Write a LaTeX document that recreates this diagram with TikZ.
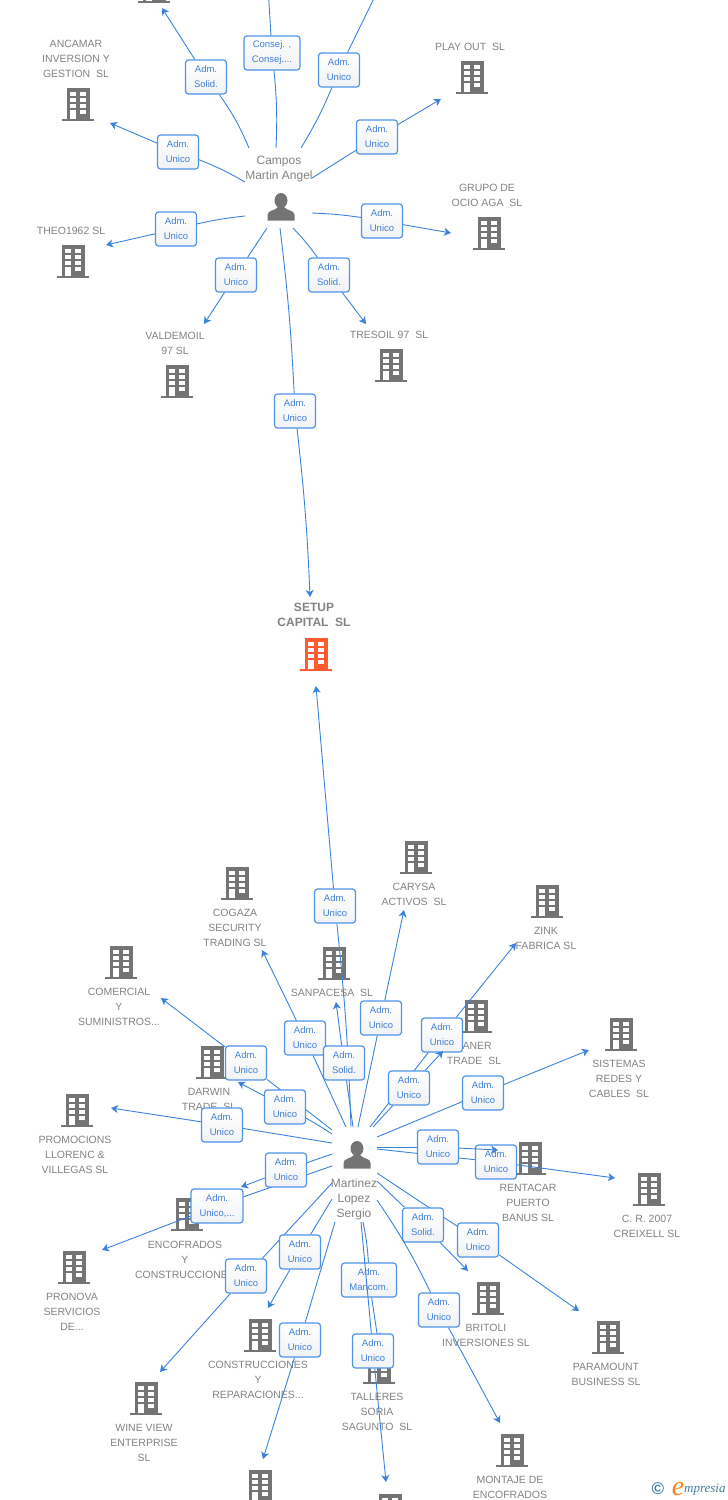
\documentclass[tikz,border=0pt]{standalone}
\usepackage{fontspec}
\setmainfont{Liberation Sans}
\newfontfamily\logofont{Liberation Serif}
\usetikzlibrary{arrows.meta}
\definecolor{linkblue}{HTML}{3B82DC}
\definecolor{boxblue}{HTML}{4E93E6}
\definecolor{relblue}{HTML}{3F7FD9}
\definecolor{boxshade}{HTML}{F1F2F4}
\definecolor{firmgray}{HTML}{747474}
\definecolor{labelgray}{HTML}{828282}
\definecolor{setuporange}{HTML}{FF5B2E}
\definecolor{logoteal}{HTML}{3F7F9C}
\definecolor{logoorange}{HTML}{F5821F}

\tikzset{
  pics/bldg/.style={code={
    \fill[#1] (-11.5,-16) rectangle (11.5,15);
    \fill[#1] (-16,14.5) rectangle (16,16.5);
    \foreach \wy in {-12.5,-6.5,-0.5} {
      \fill[white] (-8,\wy) rectangle (-2,\wy+4);
      \fill[white] (2,\wy) rectangle (8,\wy+4);
    }
    \fill[white] (2,5.5) rectangle (8,9.5);
    \fill[white] (-8,5.5) rectangle (-2,14.5);
  }},
  pics/person/.style={code={
    \fill[firmgray] (0,-6.5) ellipse (6.5 and 7.5);
    \fill[firmgray] (-13.5,13.5) -- (-13.5,8) .. controls (-13.5,3) and (-6,4) .. (-3,0)
      -- (3,0) .. controls (6,4) and (13.5,3) .. (13.5,8) -- (13.5,13.5) -- cycle;
  }},
  firmlabel/.style={text=labelgray,align=center,inner sep=0pt,
    font=\fontsize{10.5}{15}\selectfont},
  setuplabel/.style={firmlabel,font=\fontsize{12}{15}\selectfont\bfseries},
  personlabel/.style={text=labelgray,align=center,inner sep=0pt,
    font=\fontsize{12}{15}\selectfont},
  relbox/.style={draw=boxblue,line width=1.2pt,rounded corners=3pt,top color=white,
    bottom color=boxshade,text=relblue,align=center,inner sep=0pt,
    minimum width=41pt,minimum height=34pt,font=\fontsize{9.5}{15}\selectfont},
  link/.style={draw=linkblue,line width=0.9pt},
  linkto/.style={link,-{Stealth[length=7pt,width=8pt,inset=2pt]}}
}

% building with its label: [colour]{name}{building}{label}{text}
\newcommand{\firm}[5][firmgray]{
  \pic (#2-icon) at (#3) {bldg=#1};
  \node[firmlabel] (#2) at (#4) {#5};
}
% relation: [box width]{name}{start}{box}{end}{bend in}{bend out}{text}
\newcommand{\rel}[8][41pt]{
  \coordinate (#2-from) at (#3);
  \coordinate (#2-to) at (#5);
  \node[relbox,minimum width=#1] (#2) at (#4) {#8};
  \draw[link] (#2-from) to[bend left=#6] (#2);
  \draw[linkto] (#2) to[bend left=#7] (#2-to);
}

\begin{document}
\begin{tikzpicture}[x=1pt,y=-1pt]
  \clip (0,0) rectangle (728,1500);

  % firms above Campos
  \firm{topfirm}{154,-14}{154,-40}{}
  \firm{ancamar}{78,104}{76,59}{ANCAMAR\\INVERSION Y\\GESTION\ \ SL}
  \firm{playout}{472,77}{470,47}{PLAY OUT\ \ SL}
  \firm{grupo}{489,233}{487,195.5}{GRUPO DE\\OCIO AGA\ \ SL}
  \firm{theo}{73,261}{71,231}{THEO1962 SL}
  \firm{valdemoil}{177,381}{175,343.5}{VALDEMOIL\\97 SL}
  \firm{tresoil}{391,365}{389,335}{TRESOIL 97\ \ SL}

  % the company in the middle
  \pic (setup-icon) at (316,654) {bldg=setuporange};
  \node[setuplabel] (setup) at (314,615) {SETUP\\CAPITAL\ \ SL};

  % firms around Martinez
  \firm{cogaza}{237,883}{235,928}{COGAZA\\SECURITY\\TRADING SL}
  \firm{carysa}{416,857}{414,894.5}{CARYSA\\ACTIVOS\ \ SL}
  \firm{zink}{547,901}{546,938.5}{ZINK\\FABRICA SL}
  \firm{sanpacesa}{334,963}{332,993}{SANPACESA\ \ SL}
  \firm{comercial}{121,962}{119,1007}{COMERCIAL\\Y\\SUMINISTROS...}
  \firm{aner}{476,1016}{474,1053.5}{\phantom{T}ANER\\TRADE\ \ SL}
  \firm{sistemas}{621,1034}{619,1079}{SISTEMAS\\REDES Y\\CABLES\ \ SL}
  \firm{darwin}{212,1062}{209,1099.5}{DARWIN\\TRADE\ \ SL}
  \firm{promocions}{77,1110}{75,1155}{PROMOCIONS\\LLORENC \&\\VILLEGAS SL}
  \firm{rentacar}{530,1158}{528,1203}{RENTACAR\\PUERTO\\BANUS SL}
  \firm{creixell}{649,1189}{647,1226.5}{C. R. 2007\\CREIXELL SL}
  \firm{encofrados}{187,1214}{185,1260}{ENCOFRADOS\\Y\\CONSTRUCCIONES}
  \firm{pronova}{74,1267}{72,1312}{PRONOVA\\SERVICIOS\\DE...}
  \firm{britoli}{488,1298}{486,1335.5}{BRITOLI\\INVERSIONES SL}
  \firm{paramount}{608,1337}{606,1374.5}{PARAMOUNT\\BUSINESS SL}
  \firm{reparaciones}{260,1335}{258,1380}{CONSTRUCCIONES\\Y\\REPARACIONES...}
  \firm{wineview}{146,1398}{144,1443}{WINE VIEW\\ENTERPRISE\\SL}
  \firm{talleres}{379,1367}{377,1412}{TALLERES\\SORIA\\SAGUNTO\ \ SL}
  \firm{montaje}{512,1450}{510,1487.5}{MONTAJE DE\\ENCOFRADOS}
  \firm{lowfirmA}{260,1486}{260,1530}{}
  \firm{lowfirmB}{390,1510}{390,1550}{}

  % the two people
  \pic (campos-icon) at (281,207) {person};
  \node[personlabel] (campos) at (279,169) {Campos\\Martin Angel};
  \pic (martinez-icon) at (357,1155) {person};
  \node[personlabel] (martinez) at (354,1199) {Martinez\\Lopez\\Sergio};

  % Campos has ten relations
  \rel{cSolidA}{249,148}{206,77}{162,8}{-6}{0}{Adm.\\Solid.}
  \rel[56pt]{cConsej}{276,148}{272,53}{268,-14}{-4}{0}{Consej. ,\\Consej....}
  \rel{cUpper}{301,148}{339,70}{380,-14}{-4}{0}{Adm.\\Unico}
  \rel{cPlayout}{312,178}{377,137}{441,99}{0}{0}{Adm.\\Unico}
  \rel{cAncamar}{245,182}{178,152}{110,123}{-4}{0}{Adm.\\Unico}
  \rel{cTheo}{245,216}{176,229}{106,245}{-3}{0}{Adm.\\Unico}
  \rel{cGrupo}{312,213}{382,221}{451,233}{3}{0}{Adm.\\Unico}
  \rel{cValdemoil}{267,228}{236,275}{204,324}{0}{0}{Adm.\\Unico}
  \rel{cTresoil}{293,228}{329,275}{366,324}{4}{0}{Adm.\\Solid.}
  \rel{cSetup}{280,228}{295,411}{310,597}{2}{2}{Adm.\\Unico}

  % Martinez, upper side
  \rel{mSetup}{351,1127}{335,906}{316,686}{-2}{0}{Adm.\\Unico}
  \rel{mCogaza}{346,1127}{305,1038}{262,950}{0}{0}{Adm.\\Unico}
  \rel{mSanpacesa}{353,1127}{344,1063}{336,1002}{0}{0}{Adm.\\Solid.}
  \rel{mCarysa}{358,1127}{381,1018}{404,910}{0}{0}{Adm.\\Unico}
  \rel{mZink}{370,1127}{442,1035}{516,943}{0}{0}{Adm.\\Unico}
  \rel{mAner}{373,1127}{409,1088}{443,1051}{0}{0}{Adm.\\Unico}
  \rel{mSistemas}{377,1137}{483,1093}{589,1050}{0}{0}{Adm.\\Unico}
  \rel{mComercial}{332,1130}{246,1063}{161,998}{0}{0}{Adm.\\Unico}
  \rel{mDarwin}{332,1134}{285,1107}{238,1082}{-2}{0}{Adm.\\Unico}
  \rel{mPromocions}{332,1143}{222,1125}{111,1108}{0}{0}{Adm.\\Unico}

  % Martinez, right side
  \rel{mCreixell}{377,1149}{496,1162}{615,1178}{0}{0}{Adm.\\Unico}
  \rel{mRentacar}{377,1147}{438,1147}{498,1150}{0}{0}{Adm.\\Unico}

  % Martinez, left side
  \rel[52pt]{mPronova}{332,1166}{217,1206}{102,1250}{0}{0}{Adm.\\Unico,...}
  \rel{mEncofrados}{332,1154}{286,1170}{241,1187}{0}{0}{Adm.\\Unico}

  % Martinez, lower side
  \rel{mParamount}{377,1173}{478,1240}{579,1311}{0}{0}{Adm.\\Unico}
  \rel{mBritoli}{377,1181}{423,1225}{468,1271}{0}{0}{Adm.\\Solid.}
  \rel{mMontaje}{377,1200}{439,1310}{500,1423}{4}{0}{Adm.\\Unico}
  \rel{mWineview}{332,1183}{246,1276}{160,1372}{0}{0}{Adm.\\Unico}
  \rel{mReparaciones}{332,1199}{300,1252}{268,1308}{0}{0}{Adm.\\Unico}
  \rel{mLowA}{335,1222}{300,1340}{263,1459}{0}{0}{Adm.\\Unico}
  \rel[55pt]{mTalleres}{363,1222}{369,1280}{378,1340}{4}{0}{Adm.\\Mancom.}
  \rel{mLowB}{361,1222}{373,1351}{386,1482}{0}{0}{Adm.\\Unico}

  % logo in the corner
  \node[text=logoteal,inner sep=0pt,font=\fontsize{17}{17}\selectfont\bfseries] (logoC) at (658,1489) {\textcopyright};
  \node[text=logoorange,inner sep=0pt,font=\logofont\itshape\fontsize{28}{28}\selectfont] (logoE) at (678,1489) {e};
  \node[text=logoteal,inner sep=0pt,anchor=west,font=\logofont\itshape\fontsize{13}{13}\selectfont] (logoText) at (684,1490) {mpresia};
\end{tikzpicture}
\end{document}
